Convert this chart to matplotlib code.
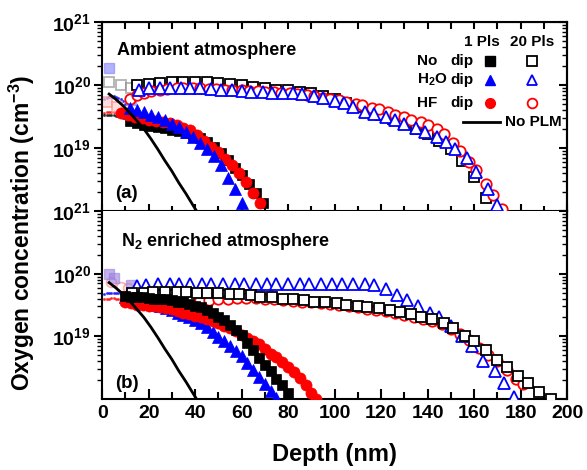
import numpy as np
import matplotlib
matplotlib.use("Agg")
import matplotlib.pyplot as plt
from matplotlib.ticker import MultipleLocator, LogLocator, NullFormatter

plt.rcParams['font.family'] = ['Liberation Sans', 'DejaVu Sans']
plt.rcParams['font.weight'] = 'bold'
plt.rcParams['mathtext.fontset'] = 'custom'
plt.rcParams['mathtext.rm'] = 'Liberation Sans:bold'
plt.rcParams['mathtext.bf'] = 'Liberation Sans:bold'
plt.rcParams['mathtext.default'] = 'bf'

# ---------------- data (depth in nm, oxygen concentration in cm^-3) ----------------

# no PLM reference (same in both panels)
noplm_d = [3, 6, 9, 12, 15, 18, 21, 24, 27, 30, 33, 36, 39, 41]
noplm_c = [7.2e19, 5.9e19, 4.7e19, 3.6e19, 2.7e19, 2.0e19, 1.4e19, 9.5e18, 6.3e18,
           4.3e18, 2.8e18, 1.9e18, 1.25e18, 9.5e17]

# (a) ambient atmosphere, 1 pulse
a_no1_d = [12, 15, 18, 21, 24, 27, 30, 33, 36, 39, 42, 45, 48, 51, 54, 57, 60, 63, 66, 69]
a_no1_c = [2.7e19, 2.5e19, 2.35e19, 2.25e19, 2.15e19, 2.05e19, 1.95e19, 1.85e19, 1.75e19,
           1.6e19, 1.45e19, 1.25e19, 1.05e19, 8.2e18, 6.5e18, 4.9e18, 3.7e18, 2.7e18,
           1.9e18, 1.35e18]
a_hf1_d = [8, 11, 14, 17, 20, 23, 26, 29, 32, 35, 38, 41, 44, 47, 50, 53, 56, 59, 62, 65, 68]
a_hf1_c = [3.6e19, 3.3e19, 3.1e19, 2.95e19, 2.8e19, 2.7e19, 2.6e19, 2.5e19, 2.3e19, 2.1e19,
           1.9e19, 1.6e19, 1.3e19, 1.05e19, 8.5e18, 6.8e18, 5.3e18, 4.0e18, 2.9e18,
           1.9e18, 1.35e18]
a_h2o1_d = [12, 15, 18, 21, 24, 27, 30, 33, 36, 39, 42, 45, 48, 51, 54, 57, 60]
a_h2o1_c = [4.3e19, 4.0e19, 3.7e19, 3.4e19, 3.1e19, 2.75e19, 2.45e19, 2.15e19, 1.8e19,
            1.5e19, 1.2e19, 9.5e18, 7.5e18, 5.3e18, 3.4e18, 2.2e18, 1.35e18]

# (a) ambient atmosphere, 20 pulses
a_no20_d = [15, 20, 25, 30, 35, 40, 45, 50, 55, 60, 65, 70, 75, 80, 85, 90, 95, 100, 105,
            110, 115, 120, 125, 130, 135, 140, 145, 150, 155, 160, 165]
a_no20_c = [1.0e20, 1.05e20, 1.07e20, 1.1e20, 1.1e20, 1.1e20, 1.1e20, 1.07e20, 1.05e20,
            1.0e20, 9.3e19, 8.9e19, 8.5e19, 8.3e19, 7.9e19, 7.4e19, 6.8e19, 6.0e19, 5.2e19,
            4.5e19, 3.9e19, 3.3e19, 2.9e19, 2.45e19, 2.0e19, 1.66e19, 1.3e19, 9.5e18,
            6.3e18, 3.5e18, 1.6e18]
a_h2o20_d = [16, 20, 25, 29, 34, 38, 42, 47, 51, 56, 60, 64, 69, 73, 78, 82, 86, 91, 95,
             100, 104, 108, 113, 117, 122, 126, 130, 135, 139, 144, 148, 152, 157, 161,
             166, 170]
a_h2o20_c = [8.5e19, 8.9e19, 9.1e19, 9.1e19, 9.1e19, 8.9e19, 8.9e19, 8.7e19, 8.5e19,
             8.3e19, 8.1e19, 7.9e19, 7.8e19, 7.6e19, 7.6e19, 7.4e19, 7.1e19, 6.8e19,
             6.3e19, 5.6e19, 5.1e19, 4.5e19, 3.8e19, 3.5e19, 3.1e19, 2.75e19, 2.45e19,
             2.1e19, 1.8e19, 1.5e19, 1.26e19, 9.5e18, 6.9e18, 4.2e18, 2.2e18, 1.26e18]
a_hf20_d = [12, 15, 18, 21, 25, 28, 32, 35, 39, 42, 46, 49, 53, 56, 60, 63, 67, 70, 74,
            77, 81, 84, 88, 91, 95, 98, 102, 105, 109, 112, 116, 119, 123, 126, 130,
            133, 137, 140, 144, 147, 151, 154, 158, 161, 165, 168, 172]
a_hf20_c = [6.0e19, 6.9e19, 7.6e19, 8.1e19, 8.5e19, 8.7e19, 8.9e19, 8.9e19, 8.9e19,
            8.9e19, 8.7e19, 8.7e19, 8.5e19, 8.5e19, 8.3e19, 8.1e19, 8.1e19, 7.9e19,
            7.8e19, 7.6e19, 7.4e19, 7.2e19, 6.9e19, 6.6e19, 6.3e19, 6.0e19, 5.75e19,
            5.4e19, 5.0e19, 4.8e19, 4.4e19, 4.1e19, 3.7e19, 3.4e19, 3.1e19, 2.8e19,
            2.6e19, 2.35e19, 2.0e19, 1.7e19, 1.2e19, 8.9e18, 6.0e18, 4.5e18, 2.7e18,
            1.8e18, 1.07e18]

# (b) N2 enriched atmosphere, 1 pulse
b_no1_d = [10, 12.5, 15, 17.5, 20, 22.5, 25, 27.5, 30, 32.5, 35, 37.5, 40, 42.5, 45,
           47.5, 50, 52.5, 55, 57.5, 60, 62.5, 65, 67.5, 70, 72.5, 75, 77.5, 80]
b_no1_c = [4.4e19, 4.3e19, 4.2e19, 4.2e19, 4.1e19, 4.0e19, 4.0e19, 3.9e19, 3.8e19,
           3.6e19, 3.5e19, 3.3e19, 3.1e19, 2.9e19, 2.6e19, 2.35e19, 2.0e19, 1.8e19,
           1.5e19, 1.26e19, 1.05e19, 7.9e18, 6.0e18, 4.5e18, 3.5e18, 2.75e18, 2.1e18,
           1.66e18, 1.26e18]
b_hf1_d = [10, 12.5, 15, 17.5, 20, 22.5, 25, 27.5, 30, 32.5, 35, 37.5, 40, 42.5, 45,
           47.5, 50, 52.5, 55, 57.5, 60, 62.5, 65, 67.5, 70, 72.5, 75, 77.5, 80, 82.5,
           85, 87.5, 90, 92]
b_hf1_c = [3.6e19, 3.4e19, 3.2e19, 3.16e19, 3.1e19, 3.0e19, 2.95e19, 2.8e19, 2.7e19,
           2.5e19, 2.4e19, 2.24e19, 2.14e19, 2.0e19, 1.86e19, 1.74e19, 1.62e19, 1.48e19,
           1.35e19, 1.2e19, 1.07e19, 9.5e18, 8.5e18, 7.6e18, 6.3e18, 5.2e18, 4.6e18,
           3.9e18, 3.2e18, 2.7e18, 2.2e18, 1.66e18, 1.26e18, 1.0e18]
b_h2o1_d = [10, 12.5, 15, 17.5, 20, 22.5, 25, 27.5, 30, 32.5, 35, 37.5, 40, 42.5, 45,
            47.5, 50, 52.5, 55, 57.5, 60, 62.5, 65, 67.5, 70, 72.5, 75]
b_h2o1_c = [4.2e19, 4.0e19, 3.8e19, 3.6e19, 3.5e19, 3.2e19, 3.0e19, 2.8e19, 2.6e19,
            2.4e19, 2.2e19, 2.0e19, 1.8e19, 1.66e19, 1.41e19, 1.17e19, 9.8e18, 8.3e18,
            7.1e18, 5.9e18, 4.8e18, 3.8e18, 2.95e18, 2.24e18, 1.74e18, 1.35e18, 1.05e18]

# (b) N2 enriched atmosphere, 20 pulses
b_no20_d = [13, 18, 22, 27, 32, 36, 41, 45, 50, 55, 59, 64, 68, 73, 78, 82, 87, 91, 96,
            101, 105, 110, 114, 119, 124, 128, 133, 137, 142, 147, 151, 156, 160, 165,
            170, 174, 179, 183, 188, 193]
b_no20_c = [4.9e19, 5.0e19, 5.1e19, 5.1e19, 5.1e19, 5.1e19, 5.0e19, 5.0e19, 4.9e19,
            4.8e19, 4.7e19, 4.5e19, 4.3e19, 4.2e19, 4.0e19, 3.9e19, 3.8e19, 3.6e19,
            3.55e19, 3.4e19, 3.2e19, 3.1e19, 2.95e19, 2.8e19, 2.6e19, 2.45e19, 2.24e19,
            2.0e19, 1.86e19, 1.66e19, 1.35e19, 1.02e19, 8.5e18, 6.0e18, 4.2e18, 3.2e18,
            2.3e18, 1.8e18, 1.3e18, 1.0e18]
b_hf20_d = [14, 18, 22, 26, 30, 34, 38, 42, 46, 50, 54, 58, 62, 66, 70, 74, 78, 82, 86,
            90, 94, 98, 102, 106, 110, 114, 118, 122, 126, 130, 134, 138, 142, 146, 150,
            154, 158, 162, 166, 170, 174, 178, 181]
b_hf20_c = [4.2e19, 4.0e19, 3.8e19, 3.8e19, 3.8e19, 3.8e19, 3.8e19, 3.8e19, 3.8e19,
            3.9e19, 4.0e19, 4.1e19, 4.1e19, 4.1e19, 4.0e19, 3.9e19, 3.8e19, 3.7e19,
            3.6e19, 3.55e19, 3.4e19, 3.3e19, 3.16e19, 3.0e19, 2.9e19, 2.75e19, 2.6e19,
            2.5e19, 2.35e19, 2.2e19, 2.05e19, 1.9e19, 1.74e19, 1.55e19, 1.3e19, 1.1e19,
            8.9e18, 6.6e18, 5.0e18, 4.0e18, 2.9e18, 2.1e18, 1.74e18]
b_h2o20_d = [15, 19, 24, 29, 33, 38, 43, 47, 52, 57, 61, 66, 71, 75, 80, 85, 89, 94, 99,
             103, 108, 113, 117, 122, 127, 131, 136, 141, 145, 150, 155, 159, 164, 169,
             173, 177]
b_h2o20_c = [6.3e19, 6.6e19, 6.9e19, 6.9e19, 6.9e19, 6.9e19, 6.9e19, 6.9e19, 6.9e19,
             6.9e19, 6.9e19, 6.9e19, 6.9e19, 6.9e19, 6.9e19, 6.9e19, 6.9e19, 6.9e19,
             6.9e19, 6.9e19, 6.9e19, 6.9e19, 6.6e19, 5.6e19, 4.6e19, 3.8e19, 3.1e19,
             2.4e19, 2.0e19, 1.48e19, 1.0e19, 6.9e18, 4.0e18, 2.8e18, 1.8e18, 1.07e18]

# faint near-surface points (surface artefacts), one list per panel
a_surf_sq_d = [3, 8, 12.5]
a_surf_sq_c = [1.12e20, 1.0e20, 9.0e19]
a_surf_bsq_d = [3, 12.5]
a_surf_bsq_c = [1.85e20, 5.8e19]
a_surf_rsq_d = [2, 6.5]
a_surf_rsq_c = [5.4e19, 4.5e19]
a_dots_d = [1, 2, 3, 4, 5, 6, 7, 8, 9, 10]
a_dots_red = [3.6e19, 3.7e19, 3.7e19, 3.8e19, 3.8e19, 3.7e19, 3.7e19, 3.6e19, 3.6e19, 3.5e19]
a_dots_blk = [3.3e19, 3.4e19, 3.4e19, 3.3e19, 3.3e19, 3.2e19, 3.2e19, 3.1e19, 3.0e19, 3.0e19]
a_dots_blu = [6.0e19, 6.3e19, 6.5e19, 6.5e19, 6.6e19, 6.4e19, 6.2e19, 6.0e19, 5.6e19, 5.0e19]

b_surf_bsq_d = [3, 5, 12.5]
b_surf_bsq_c = [1.0e20, 8.5e19, 6.6e19]
b_surf_rci_d = [4, 8, 11]
b_surf_rci_c = [7.4e19, 6.2e19, 6.0e19]
b_dots_red = [3.9e19, 4.0e19, 4.0e19, 4.1e19, 4.1e19, 4.0e19, 4.0e19, 3.9e19, 3.9e19, 3.8e19]
b_dots_blu = [4.8e19, 4.9e19, 5.0e19, 5.0e19, 5.0e19, 4.9e19, 4.9e19, 4.8e19, 4.7e19, 4.6e19]

BLUE = '#0000ff'
RED = '#ff0000'
MS = 7
MEW = 1.3

fig = plt.figure(figsize=(5.87, 4.70), dpi=100)
ax_a = fig.add_axes([0.174, 0.551, 0.792, 0.402])
ax_b = fig.add_axes([0.174, 0.151, 0.792, 0.400])


def open_marker(ax, d, c, color, marker, ms=MS):
    ax.plot(d, c, ls='none', marker=marker, ms=ms, mfc='white', mec=color, mew=MEW, zorder=3)


def filled_marker(ax, d, c, color, marker, ms=MS):
    ax.plot(d, c, ls='none', marker=marker, ms=ms, mfc=color, mec=color, mew=0.5, zorder=4)


# panel (a)
ax_a.plot(a_dots_d, a_dots_red, ls='none', marker='.', ms=2.5, color=RED, alpha=0.6)
ax_a.plot(a_dots_d, a_dots_blk, ls='none', marker='.', ms=2.5, color='black', alpha=0.6)
ax_a.plot(a_dots_d, a_dots_blu, ls='none', marker='.', ms=2.5, color=BLUE, alpha=0.6)
ax_a.plot(a_surf_sq_d, a_surf_sq_c, ls='none', marker='s', ms=MS, mfc='white', mec='gray', mew=MEW, alpha=0.6)
ax_a.plot(a_surf_rsq_d, a_surf_rsq_c, ls='none', marker='s', ms=MS, mfc='#ffd0d0', mec='#ff9090', mew=MEW, alpha=0.7)
ax_a.plot(a_surf_bsq_d, a_surf_bsq_c, ls='none', marker='s', ms=MS, color='#8080ff', alpha=0.6)
open_marker(ax_a, a_no20_d, a_no20_c, 'black', 's')
open_marker(ax_a, a_hf20_d, a_hf20_c, RED, 'o', MS + 0.5)
open_marker(ax_a, a_h2o20_d, a_h2o20_c, BLUE, '^', MS + 1)
filled_marker(ax_a, a_no1_d, a_no1_c, 'black', 's')
filled_marker(ax_a, a_hf1_d, a_hf1_c, RED, 'o', MS + 1)
filled_marker(ax_a, a_h2o1_d, a_h2o1_c, BLUE, '^', MS + 1.5)
ax_a.plot(noplm_d, noplm_c, color='black', lw=2, zorder=5)

# panel (b)
ax_b.plot(a_dots_d, b_dots_red, ls='none', marker='.', ms=2.5, color=RED, alpha=0.6)
ax_b.plot(a_dots_d, b_dots_blu, ls='none', marker='.', ms=2.5, color=BLUE, alpha=0.6)
ax_b.plot(b_surf_rci_d, b_surf_rci_c, ls='none', marker='o', ms=MS, mfc='white', mec='#ff9090', mew=MEW, alpha=0.7)
ax_b.plot(b_surf_bsq_d, b_surf_bsq_c, ls='none', marker='s', ms=MS, color='#9a80e0', alpha=0.6)
open_marker(ax_b, b_hf20_d, b_hf20_c, RED, 'o', MS + 0.5)
open_marker(ax_b, b_h2o20_d, b_h2o20_c, BLUE, '^', MS + 1)
open_marker(ax_b, b_no20_d, b_no20_c, 'black', 's')
filled_marker(ax_b, b_h2o1_d, b_h2o1_c, BLUE, '^', MS + 1.5)
filled_marker(ax_b, b_hf1_d, b_hf1_c, RED, 'o', MS + 1)
filled_marker(ax_b, b_no1_d, b_no1_c, 'black', 's')
ax_b.plot(noplm_d, noplm_c, color='black', lw=2, zorder=5)

# axes styling
for ax in (ax_a, ax_b):
    ax.set_yscale('log')
    ax.set_ylim(1e18, 1e21)
    ax.set_xlim(0, 200)
    ax.xaxis.set_major_locator(MultipleLocator(20))
    ax.xaxis.set_minor_locator(MultipleLocator(10))
    ax.yaxis.set_major_locator(LogLocator(base=10, numticks=10))
    ax.yaxis.set_minor_locator(LogLocator(base=10, subs=np.arange(2, 10), numticks=10))
    ax.yaxis.set_minor_formatter(NullFormatter())
    for sp in ax.spines.values():
        sp.set_linewidth(1.5)
    ax.tick_params(axis='y', which='major', direction='out', length=6, width=1.5,
                   labelsize=14, pad=2)
    ax.tick_params(axis='y', which='minor', direction='out', length=3.5, width=1.0)
    ax.tick_params(axis='x', which='both', width=1.5)
    sec = ax.secondary_yaxis('right')
    sec.tick_params(axis='y', which='major', direction='in', length=6, width=1.5, labelright=False)
    sec.tick_params(axis='y', which='minor', direction='in', length=3.5, width=1.0)
    sec.spines['right'].set_linewidth(1.5)

ax_a.set_yticks([1e18, 1e19, 1e20, 1e21])
ax_a.set_yticklabels(['$10^{21}$', '$10^{19}$', '$10^{20}$', '$10^{21}$'])
ax_b.set_yticks([1e19, 1e20])
ax_b.set_yticklabels(['$10^{19}$', '$10^{20}$'])

ax_a.tick_params(axis='x', which='major', direction='inout', length=10, labelbottom=False)
ax_a.tick_params(axis='x', which='minor', direction='inout', length=7)
sec_top = ax_a.secondary_xaxis('top')
sec_top.xaxis.set_major_locator(MultipleLocator(10))
sec_top.tick_params(axis='x', direction='in', length=5, width=1.5, labeltop=False)

ax_b.tick_params(axis='x', which='major', direction='in', length=7, labelsize=14, pad=4)
ax_b.tick_params(axis='x', which='minor', direction='in', length=5)
ax_b.spines['top'].set_visible(False)

# panel captions
ax_a.text(0.032, 0.852, 'Ambient atmosphere', transform=ax_a.transAxes,
          fontsize=13, fontweight='bold', va='center')
ax_a.text(0.028, 0.095, '(a)', transform=ax_a.transAxes, fontsize=13.5,
          fontweight='bold', va='center')
ax_b.text(0.04, 0.84, 'N$_2$ enriched atmosphere', transform=ax_b.transAxes,
          fontsize=13, fontweight='bold', va='center')
ax_b.text(0.028, 0.085, '(b)', transform=ax_b.transAxes, fontsize=13.5,
          fontweight='bold', va='center')

# hand-made legend in panel (a)
lt = ax_a.transAxes
ax_a.text(0.817, 0.894, '1 Pls', transform=lt, ha='center', va='center', fontsize=11)
ax_a.text(0.925, 0.894, '20 Pls', transform=lt, ha='center', va='center', fontsize=11)
rows = [('No', 's', 'black', 0.794), ('H$_2$O', '^', BLUE, 0.693), ('HF', 'o', RED, 0.571)]
for name, mk, col, yy in rows:
    ax_a.text(0.677, yy, name, transform=lt, va='center', fontsize=11)
    ax_a.text(0.748, yy, 'dip', transform=lt, va='center', fontsize=11)
    ax_a.plot([0.834], [yy], transform=lt, marker=mk, ms=MS, mfc=col, mec=col, ls='none', clip_on=False)
    ax_a.plot([0.925], [yy], transform=lt, marker=mk, ms=MS, mfc='white', mec=col, mew=MEW, ls='none', clip_on=False)
ax_a.plot([0.776, 0.856], [0.471, 0.471], transform=lt, color='black', lw=2)
ax_a.text(0.867, 0.471, 'No PLM', transform=lt, va='center', fontsize=11)

fig.text(0.038, 0.504, 'Oxygen concentration (cm$^{-3}$)', rotation=90,
         ha='center', va='center', fontsize=16.5, fontweight='bold')
fig.text(0.57, 0.032, 'Depth (nm)', ha='center', va='center', fontsize=17,
         fontweight='bold')

fig.savefig('out.png', dpi=100)
